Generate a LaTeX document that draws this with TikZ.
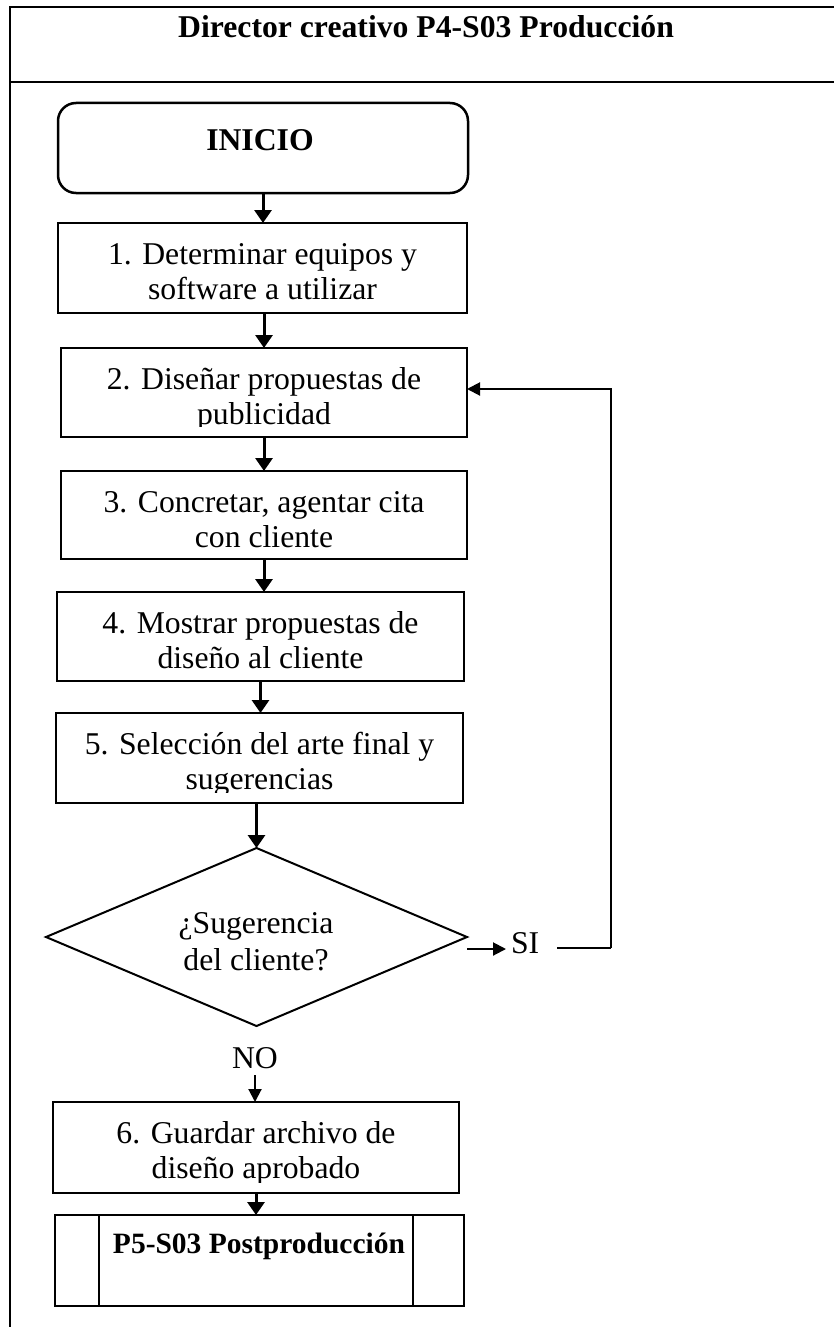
\documentclass[tikz,border=0pt]{standalone}
\usepackage{fontspec}
\setmainfont{Liberation Serif}
\usetikzlibrary{arrows.meta,shapes.geometric}

\tikzset{
  frameline/.style={line width=2.5pt},
  stepbox/.style={draw, line width=2.5pt, rectangle, inner sep=0pt, outer sep=0pt},
  startbox/.style={draw, line width=2.5pt, rectangle, rounded corners=18pt, inner sep=0pt, outer sep=0pt},
  decision/.style={draw, line width=2pt, diamond, inner sep=0pt, outer sep=0pt},
  txt/.style={inner sep=0pt, outer sep=0pt, font=\fontsize{31.7}{35}\selectfont},
  boldtxt/.style={inner sep=0pt, outer sep=0pt, font=\fontsize{31.7}{35}\selectfont\bfseries},
  flow/.style={line width=3pt, -{Triangle[width=17pt,length=13pt]}},
  thinflow/.style={line width=2pt, -{Triangle[width=13pt,length=13pt]}},
  thinline/.style={line width=2pt},
}

% two-line label whose first baseline sits 41pt below the top of the box,
% clipped a little above the box's lower edge
\newcommand\boxlabel[3]{%
  \begin{scope}
    \clip (#1.north west) rectangle ([yshift=11pt]#1.south east);
    \node[txt, anchor=base] (#1-t) at ([yshift=-41pt]#1.north)
      {\begin{tabular}[t]{@{}c@{}}#2\\#3\end{tabular}};
  \end{scope}}

\begin{document}
\begin{tikzpicture}[x=1pt, y=-1pt]
  \useasboundingbox (0,0) rectangle (833,1327);
  \fill[white] (0,0) rectangle (833,1327);

  % table frame with header row
  \draw[frameline] (850,7) -- (10,7) -- (10,1340);
  \draw[frameline] (10,82) -- (850,82);
  \node[boldtxt, anchor=base] (title) at (426,38) {Director creativo P4-S03 Producción};

  % start
  \node[startbox, minimum width=410pt, minimum height=90pt] (inicio) at (263,148) {};
  \node[boldtxt, anchor=base] (inicio-t) at (260,150) {INICIO};

  % process steps
  \node[stepbox, minimum width=409pt, minimum height=90pt] (b1) at (262.5,268) {};
  \node[stepbox, minimum width=406pt, minimum height=89pt] (b2) at (264,392.5) {};
  \node[stepbox, minimum width=406pt, minimum height=88pt] (b3) at (264,515) {};
  \node[stepbox, minimum width=407pt, minimum height=89pt] (b4) at (260.5,636.5) {};
  \node[stepbox, minimum width=407pt, minimum height=90pt] (b5) at (259.5,758) {};
  \node[decision, minimum width=421pt, minimum height=178pt] (dia) at (256.5,937) {};
  \node[stepbox, minimum width=406pt, minimum height=91pt] (b6) at (256,1147.5) {};

  \boxlabel{b1}{1. Determinar equipos y}{software a utilizar}
  \boxlabel{b2}{2. Diseñar propuestas de}{publicidad}
  \boxlabel{b3}{3. Concretar, agentar cita}{con cliente}
  \boxlabel{b4}{4. Mostrar propuestas de}{diseño al cliente}
  \boxlabel{b5}{5. Selección del arte final y}{sugerencias}
  \boxlabel{b6}{6. Guardar archivo de}{diseño aprobado}

  \node[txt, anchor=base] (dia-t) at (256,933)
    {\fontsize{31.7}{37}\selectfont\begin{tabular}[t]{@{}c@{}}¿Sugerencia\\del cliente?\end{tabular}};

  % predefined process
  \node[stepbox, minimum width=409pt, minimum height=91pt] (p5) at (259.5,1260.5) {};
  \draw[line width=2.5pt] (99,1215) -- (99,1306) (413,1215) -- (413,1306);
  \node[boldtxt, anchor=base, font=\fontsize{29.5}{33}\selectfont\bfseries] (p5-t) at (259,1253) {P5-S03 Postproducción};

  % main flow
  \draw[flow] (inicio.south) -- (inicio.south |- b1.north);
  \draw[flow] (b1.south -| b2.north) -- (b2.north);
  \draw[flow] (b2.south) -- (b3.north);
  \draw[flow] (b3.south) -- (b3.south |- b4.north);
  \draw[flow] (b4.south) -- (b4.south |- b5.north);
  \draw[flow] (dia.north |- b5.south) -- (dia.north);
  \draw[flow] (b6.south) -- (b6.south |- p5.north);

  % decision branches
  \node[txt, anchor=base west] (si) at (511,953) {SI};
  \node[txt, anchor=base] (no) at (255,1068) {NO};
  \draw[thinflow] ([yshift=-12pt]dia.east) -- ([yshift=-12pt]dia.east -| si.west)
    [shorten >=5pt];
  \coordinate (loopstart) at (557,948);
  \coordinate (loopcorner) at (611,948);
  \draw[thinline] (loopstart) -- (loopcorner);
  \draw[thinflow] (loopcorner) |- ([yshift=3.5pt]b2.east);
  \draw[thinflow] ([yshift=-7pt]no.south) -- (no.south |- b6.north);
\end{tikzpicture}
\end{document}
